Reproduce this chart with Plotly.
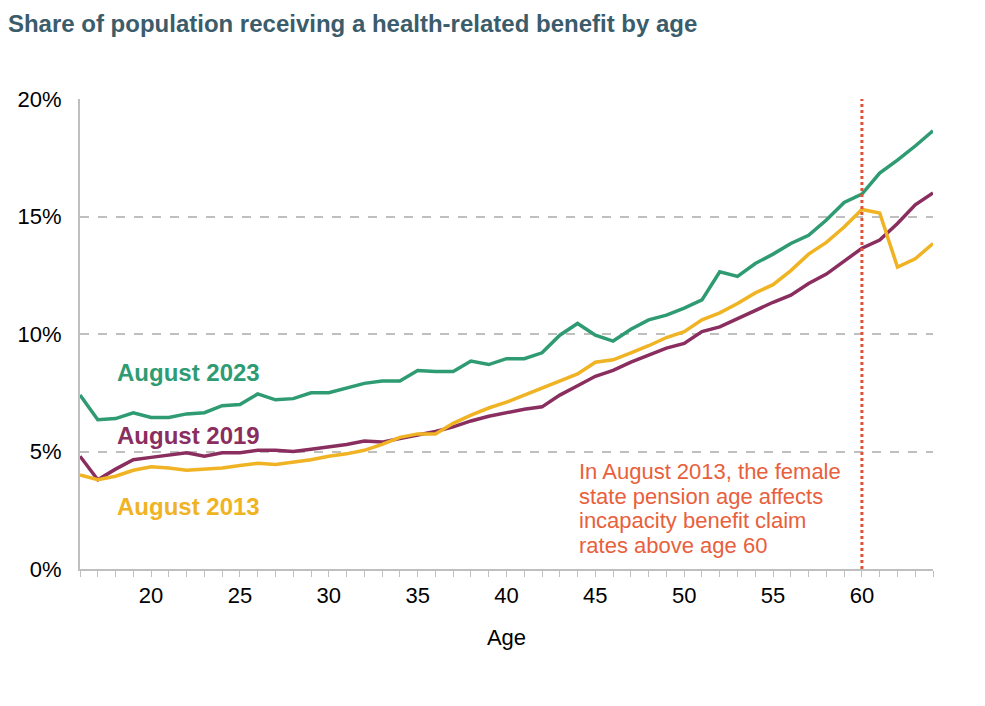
import plotly.graph_objects as go

ages = list(range(16, 65))

aug_2023 = [7.4, 6.35, 6.4, 6.65, 6.45, 6.45, 6.6, 6.65, 6.95, 7.0,
            7.45, 7.2, 7.25, 7.5, 7.5, 7.7, 7.9, 8.0, 8.0, 8.45,
            8.4, 8.4, 8.85, 8.7, 8.95, 8.95, 9.2, 9.95, 10.45, 9.95,
            9.7, 10.2, 10.6, 10.8, 11.1, 11.45, 12.65, 12.45, 13.0, 13.4,
            13.85, 14.2, 14.85, 15.6, 15.95, 16.85, 17.4, 18.0, 18.65]

aug_2019 = [4.8, 3.8, 4.25, 4.65, 4.75, 4.85, 4.95, 4.8, 4.95, 4.95,
            5.05, 5.05, 5.0, 5.1, 5.2, 5.3, 5.45, 5.4, 5.55, 5.7,
            5.85, 6.05, 6.3, 6.5, 6.65, 6.8, 6.9, 7.4, 7.8, 8.2,
            8.45, 8.8, 9.1, 9.4, 9.6, 10.1, 10.3, 10.65, 11.0, 11.35,
            11.65, 12.15, 12.55, 13.1, 13.65, 14.0, 14.7, 15.5, 16.0]

aug_2013 = [4.0, 3.8, 3.95, 4.2, 4.35, 4.3, 4.2, 4.25, 4.3, 4.4,
            4.5, 4.45, 4.55, 4.65, 4.8, 4.9, 5.05, 5.3, 5.6, 5.75,
            5.75, 6.2, 6.55, 6.85, 7.1, 7.4, 7.7, 8.0, 8.3, 8.8,
            8.9, 9.2, 9.5, 9.85, 10.1, 10.6, 10.9, 11.3, 11.75, 12.1,
            12.7, 13.4, 13.9, 14.55, 15.3, 15.15, 12.85, 13.2, 13.85]

series_names = ["August 2023", "August 2019", "August 2013"]
series_colors = ["#2E9B73", "#8A2E5F", "#F0B323"]
series_values = [aug_2023, aug_2019, aug_2013]

x_ticks = [20, 25, 30, 35, 40, 45, 50, 55, 60]
y_ticks = [0, 5, 10, 15, 20]
y_tick_labels = ["0%", "5%", "10%", "15%", "20%"]
pension_age = 60
note_lines = ["In August 2013, the female", "state pension age affects",
              "incapacity benefit claim", "rates above age 60"]

FONT = "Liberation Sans, Arial, sans-serif"

fig = go.Figure()
for name, color, vals in zip(series_names, series_colors, series_values):
    fig.add_trace(go.Scatter(x=ages, y=vals, mode="lines", name=name,
                             line=dict(color=color, width=3.5),
                             hoverinfo="x+y+name"))

fig.add_shape(type="line", x0=pension_age, x1=pension_age, y0=0, y1=20,
              xref="x", yref="y", line=dict(color="#E0533A", width=3, dash="dot"))

# series labels
label_pos = [(22.1, 8.38), (22.1, 5.7), (22.1, 2.64)]
for (lx, ly), name, color in zip(label_pos, series_names, series_colors):
    fig.add_annotation(x=lx, y=ly, text="<b>" + name + "</b>", showarrow=False,
                       xref="x", yref="y",
                       font=dict(size=24, color=color, family=FONT))

note_y = [4.13, 3.08, 2.05, 1.0]
for line, ny in zip(note_lines, note_y):
    fig.add_annotation(x=43.95, y=ny, xref="x", yref="y", text=line,
                       showarrow=False, xanchor="left", yanchor="middle",
                       align="left",
                       font=dict(size=22, color="#E8603C", family=FONT))

fig.update_layout(
    width=985, height=706,
    margin=dict(l=80, r=52, t=99, b=137),
    paper_bgcolor="white", plot_bgcolor="white",
    showlegend=False,
    font=dict(family=FONT, size=22, color="#000000"),
    title=dict(text="<b>Share of population receiving a health-related benefit by age</b>",
               x=0.008, xanchor="left", y=0.967, yanchor="middle",
               font=dict(size=24, color="#3B5C6B", family=FONT)),
)

fig.update_xaxes(range=[16, 64], tickvals=x_ticks, showgrid=False,
                 showline=True, linecolor="#BFBFBF", linewidth=2,
                 ticks="outside", ticklen=6, tickcolor="#BFBFBF",
                 minor=dict(dtick=1, tick0=16, ticks="outside", ticklen=6,
                            tickcolor="#BFBFBF", showgrid=False),
                 tickfont=dict(size=22), zeroline=False,
                 title=dict(text="Age", font=dict(size=22), standoff=22))

fig.update_yaxes(range=[0, 20], tickvals=y_ticks, ticktext=y_tick_labels,
                 showgrid=True, gridcolor="#BFBFBF", griddash="dash", gridwidth=1.5,
                 showline=True, linecolor="#BFBFBF", linewidth=2,
                 zeroline=False, tickfont=dict(size=22), ticks="",
                 ticklabelstandoff=12)

fig.write_html("out.html")
